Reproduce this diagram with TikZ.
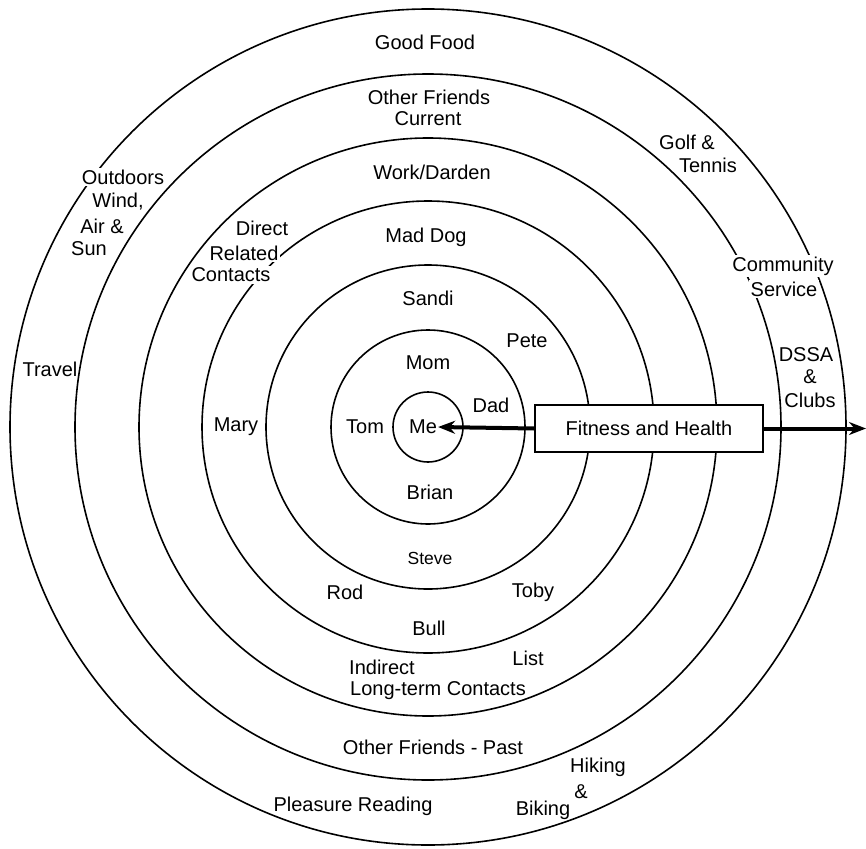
\documentclass[tikz,border=0pt]{standalone}
\usepackage{fontspec}
\setmainfont{Liberation Sans}
\usetikzlibrary{arrows.meta}
\tikzset{
  ring/.style={draw=black,line width=1.6pt},
  lbl/.style={font=\fontsize{20}{22}\selectfont,inner sep=1pt},
  sml/.style={font=\fontsize{17.5}{20}\selectfont,inner sep=1pt},
  mask/.style={fill=white,inner sep=1.5pt},
  fitbox/.style={draw=black,line width=1.6pt,fill=white,minimum width=228pt,minimum height=47pt,inner sep=0pt,font=\fontsize{20}{22}\selectfont},
  bigarrow/.style={line width=4pt,-{Stealth[length=17pt,width=13pt]}}
}
\begin{document}
\begin{tikzpicture}[x=1pt,y=-1pt]
\useasboundingbox (0,0) rectangle (866,848);
\coordinate (c) at (428,427);
\foreach \r in {35,97,162,226,289,353,418} \draw[ring] (c) circle[radius=\r];

% outer ring labels
\node[lbl] (goodfood) at (425,42) {Good Food};
\node[lbl,mask] (outdoors) at (123,177) {Outdoors};
\node[lbl] (wind) at (118,202) {Wind,};
\node[lbl] (air) at (102,226) {Air \&};
\node[lbl] (sun) at (89,249) {Sun};
\node[lbl] (travel) at (50,369) {Travel};
\node[lbl] (golf) at (687,142) {Golf \&};
\node[lbl] (tennis) at (708,165) {Tennis};
\node[lbl,mask] (community) at (783,266) {Community};
\node[lbl,mask] (service) at (784,289) {Service};
\node[lbl] (dssa) at (806,355) {DSSA};
\node[lbl] (amp1) at (810,377) {\&};
\node[lbl] (clubs) at (810,400) {Clubs};
\node[lbl] (reading) at (353,806) {Pleasure Reading};
\node[lbl] (hiking) at (598,767) {Hiking};
\node[lbl] (amp2) at (581,792) {\&};
\node[lbl] (biking) at (543,810) {Biking};

% ring 6
\node[lbl] (otherfriends) at (429,97) {Other Friends};
\node[lbl] (current) at (428,119) {Current};
\node[lbl] (past) at (433,747) {Other Friends - Past};

% ring 5
\node[lbl] (work) at (432,172) {Work/Darden};
\node[lbl,mask] (direct) at (262,228) {Direct};
\node[lbl,mask] (related) at (244,253) {Related};
\node[lbl,mask] (contacts) at (231,275) {Contacts};
\node[lbl] (indirect) at (382,667) {Indirect};
\node[lbl] (longterm) at (438,691) {Long-term Contacts};
\node[lbl] (list) at (528,658) {List};

% ring 4
\node[lbl] (maddog) at (426,237) {Mad Dog};
\node[lbl] (mary) at (236,427) {Mary};
\node[lbl] (rod) at (345,592) {Rod};
\node[lbl] (toby) at (533,592) {Toby};
\node[lbl] (bull) at (429,628) {Bull};

% ring 3
\node[lbl] (sandi) at (428,298) {Sandi};
\node[lbl] (pete) at (527,341) {Pete};
\node[sml] (steve) at (430,558) {Steve};

% ring 2
\node[lbl] (mom) at (428,363) {Mom};
\node[lbl] (dad) at (491,405) {Dad};
\node[lbl] (tom) at (365,427) {Tom};
\node[lbl] (brian) at (430,492) {Brian};

% center
\node[lbl] (me) at (423,427) {Me};

% fitness box and arrows
\node[fitbox] (fitness) at (649,428.5) {Fitness and Health};
\coordinate (outer) at (866,428.5);
\draw[bigarrow] (fitness.west) -- (me.east);
\draw[bigarrow] (fitness.east) -- (outer);
\end{tikzpicture}
\end{document}
